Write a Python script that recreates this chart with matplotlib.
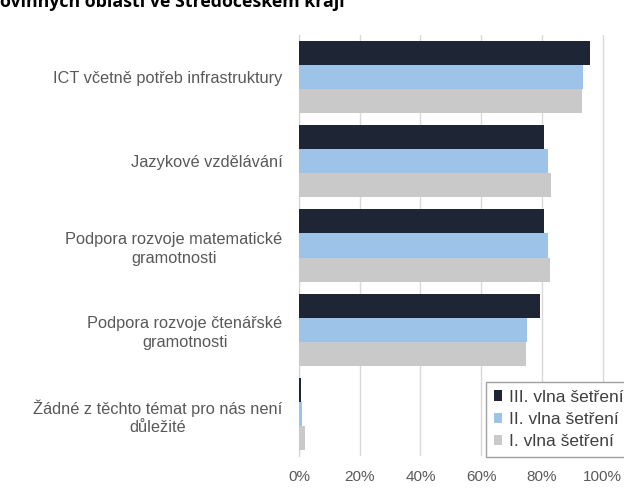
import matplotlib.pyplot as plt
import numpy as np
from matplotlib.ticker import PercentFormatter

categories = ["ICT včetně potřeb infrastruktury",
              "Jazykové vzdělávání",
              "Podpora rozvoje matematické\ngramotnosti",
              "Podpora rozvoje čtenářské\ngramotnosti",
              "Žádné z těchto témat pro nás není\ndůležité"]
wave3 = [0.960, 0.807, 0.807, 0.794, 0.005]
wave2 = [0.936, 0.822, 0.820, 0.752, 0.010]
wave1 = [0.931, 0.830, 0.826, 0.748, 0.019]
series_labels = ["III. vlna šetření", "II. vlna šetření", "I. vlna šetření"]
xticks = [0, 0.2, 0.4, 0.6, 0.8, 1.0]

colors = ["#1e2636", "#9ec3e8", "#c9c9c9"]
text_col = "#595959"

fig = plt.figure(figsize=(6.24, 4.96), dpi=100)
ax = fig.add_axes([299 / 624, 1 - 456 / 496, 325 / 624, 421 / 496])

y = np.arange(len(categories))
h = 0.286
for i, (vals, lab) in enumerate(zip([wave3, wave2, wave1], series_labels)):
    ax.barh(y + (i - 1) * h, vals, height=h, color=colors[i], label=lab, zorder=3)

ax.set_ylim(4.5, -0.5)
ax.set_xlim(0, 325 / 303.5)
ax.set_xticks(xticks)
ax.xaxis.set_major_formatter(PercentFormatter(1.0, decimals=0))
ax.set_yticks(y)
ax.set_yticklabels(categories, fontfamily="Liberation Sans", fontsize=11.8,
                   color=text_col, multialignment="center", linespacing=1.3)
for lbl in ax.get_xticklabels():
    lbl.set_fontfamily("Liberation Sans")
    lbl.set_fontsize(11)
    lbl.set_color(text_col)
ax.tick_params(axis="both", length=0)
ax.tick_params(axis="y", pad=12)
ax.tick_params(axis="x", pad=10)
ax.grid(axis="x", color="#d9d9d9", linewidth=1, zorder=0)
for s in ["top", "right", "bottom"]:
    ax.spines[s].set_visible(False)
ax.spines["left"].set_color("#d0d0d0")

# legend box runs past the right edge like in the source image
leg = fig.legend(loc="upper left", bbox_to_anchor=(486 / 624, 1 - 382 / 496),
                 prop={"family": "Liberation Sans", "size": 12.5},
                 handlelength=0.45, handleheight=0.55, handletextpad=0.45,
                 labelspacing=0.42, borderpad=0.45, borderaxespad=0,
                 fancybox=False, framealpha=1, edgecolor="#a0a0a0")
for t in leg.get_texts():
    t.set_color("#404040")

fig.text(0.0, 1 - 7 / 496, "ovinných oblastí ve Středočeském kraji",
         fontfamily="Open Sans", fontweight="bold", fontsize=12.8,
         ha="left", va="baseline", color="black")

fig.savefig("out.png", dpi=100, facecolor="white")
